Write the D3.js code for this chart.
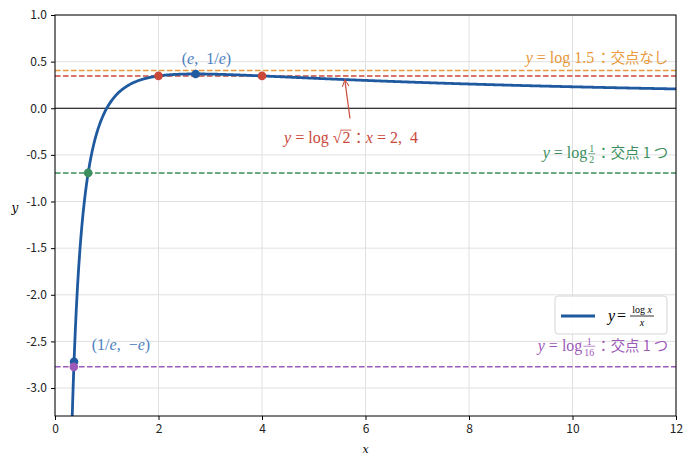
<!DOCTYPE html>
<html>
<head>
<meta charset="utf-8">
<script src="https://cdn.jsdelivr.net/npm/d3@7"></script>
<style>
  body { margin: 0; background: #fff; }
  .tick text { font-family: "Noto Sans CJK JP", "Noto Sans", sans-serif; font-size: 12px; fill: #222; }
</style>
</head>
<body>
<div id="chart"></div>
<script>
// axis ranges and ticks
const xDomain = [0, 12];
const yDomain = [-3.3, 1.0];
const xTicks = [0, 2, 4, 6, 8, 10, 12];
const yTicks = [1.0, 0.5, 0.0, -0.5, -1.0, -1.5, -2.0, -2.5, -3.0];

// horizontal levels y = log k
const levelNames = ['log1.5', 'logsqrt2', 'loghalf', 'log1_16'];
const levelValues = [0.405, 0.347, -0.693, -2.773];
const levelColors = ['#e8993a', '#c9483a', '#3b8f5e', '#9d59b8'];

// marked points
const pointX = [2.718, 0.368, 2, 4, 0.641, 0.364];
const pointY = [0.368, -2.718, 0.347, 0.347, -0.693, -2.773];
const pointColors = ['#1f5aa0', '#1f5aa0', '#c9483a', '#c9483a', '#3b8f5e', '#9d59b8'];

const curveColor = '#1f5aa0';
const f = x => Math.log(x) / x;

const width = 692, height = 467;
const margin = {top: 15, right: 16, bottom: 51, left: 55};

const svg = d3.select('#chart').append('svg')
  .attr('width', width).attr('height', height);

const x = d3.scaleLinear().domain(xDomain).range([margin.left, width - margin.right]);
const y = d3.scaleLinear().domain(yDomain).range([height - margin.bottom, margin.top]);

svg.append('clipPath').attr('id', 'clip')
  .append('rect')
  .attr('x', x(0)).attr('y', y(1))
  .attr('width', x(12) - x(0)).attr('height', y(-3.3) - y(1));

// grid
const grid = svg.append('g');
grid.selectAll('.gx').data(xTicks).enter().append('line')
  .attr('x1', d => x(d)).attr('x2', d => x(d))
  .attr('y1', y(1)).attr('y2', y(-3.3))
  .attr('stroke', '#e0e0e0');
grid.selectAll('.gy').data(yTicks).enter().append('line')
  .attr('y1', d => y(d)).attr('y2', d => y(d))
  .attr('x1', x(0)).attr('x2', x(12))
  .attr('stroke', '#e0e0e0');

// zero line
svg.append('line')
  .attr('x1', x(0)).attr('x2', x(12))
  .attr('y1', y(0)).attr('y2', y(0))
  .attr('stroke', '#000').attr('stroke-width', 1);

// dashed levels
svg.append('g').selectAll('line').data(levelValues).enter().append('line')
  .attr('x1', x(0)).attr('x2', x(12))
  .attr('y1', d => y(d)).attr('y2', d => y(d))
  .attr('stroke', (d, i) => levelColors[i])
  .attr('stroke-width', 1.5)
  .attr('stroke-dasharray', '5.5,2.5');

// the curve y = log x / x
const xs = d3.range(0.3, 12.0001, 0.01);
const line = d3.line().x(d => x(d)).y(d => y(f(d)));
svg.append('path')
  .attr('clip-path', 'url(#clip)')
  .attr('d', line(xs))
  .attr('fill', 'none')
  .attr('stroke', curveColor)
  .attr('stroke-width', 2.8);

// points
svg.append('g').selectAll('circle').data(pointX).enter().append('circle')
  .attr('cx', d => x(d))
  .attr('cy', (d, i) => y(pointY[i]))
  .attr('r', 4.3)
  .attr('fill', (d, i) => pointColors[i]);

// axes
const xAxis = svg.append('g')
  .attr('transform', `translate(0,${y(-3.3)})`)
  .call(d3.axisBottom(x).tickValues(xTicks).tickFormat(d3.format('d')).tickSizeOuter(0).tickSize(4).tickPadding(4));
const yAxis = svg.append('g')
  .attr('transform', `translate(${x(0)},0)`)
  .call(d3.axisLeft(y).tickValues(yTicks).tickFormat(d => d3.format('.1f')(d).replace('−', '-')).tickSizeOuter(0).tickSize(4).tickPadding(4));
[xAxis, yAxis].forEach(a => a.select('.domain').remove());

// frame
svg.append('rect')
  .attr('x', x(0)).attr('y', y(1))
  .attr('width', x(12) - x(0)).attr('height', y(-3.3) - y(1))
  .attr('fill', 'none').attr('stroke', '#000').attr('stroke-width', 1);

// axis labels
svg.append('text').attr('x', (x(0) + x(12)) / 2).attr('y', 453)
  .attr('text-anchor', 'middle')
  .style('font', 'italic 11px "DejaVu Serif", serif').text('x');
svg.append('text').attr('x', 15).attr('y', 212)
  .attr('text-anchor', 'middle')
  .style('font', 'italic 12px "DejaVu Serif", serif').text('y');

// rich math-ish label builder
const SERIF = '"Liberation Serif", "DejaVu Serif", serif';
const JP = '"Noto Sans CJK JP", sans-serif';
function richLabel(parts, px, py, color, anchor, size) {
  size = size || 16;
  const g = svg.append('g').attr('fill', color);
  let cx = 0;
  parts.forEach(p => {
    if (p.frac) {
      const fs = size * 0.62;
      const a = g.append('text').attr('y', -size * 0.36).style('font', `${fs}px ${SERIF}`).text(p.frac[0]);
      const b = g.append('text').attr('y', size * 0.33).style('font', `${fs}px ${SERIF}`).text(p.frac[1]);
      const wa = a.node().getComputedTextLength(), wb = b.node().getComputedTextLength();
      const w = Math.max(wa, wb) + 2;
      a.attr('x', cx + (w - wa) / 2);
      b.attr('x', cx + (w - wb) / 2);
      g.append('line').attr('x1', cx).attr('x2', cx + w)
        .attr('y1', -size * 0.28).attr('y2', -size * 0.28)
        .attr('stroke', color).attr('stroke-width', 0.7);
      cx += w + 1;
    } else if (p.sqrt) {
      const t0 = g.append('text').attr('x', cx).style('font', `${size}px ${SERIF}`).text('√');
      cx += t0.node().getComputedTextLength();
      const t1 = g.append('text').attr('x', cx + 1).style('font', `${size}px ${SERIF}`).text(p.sqrt);
      const w = t1.node().getComputedTextLength() + 2;
      g.append('line').attr('x1', cx - 1).attr('x2', cx + w)
        .attr('y1', -size * 0.82).attr('y2', -size * 0.82)
        .attr('stroke', color).attr('stroke-width', 0.8);
      cx += w;
    } else {
      const font = p.jp ? `${size * 0.9}px ${JP}` : `${p.it ? 'italic ' : ''}${size}px ${SERIF}`;
      const t = g.append('text').attr('x', cx).style('font', font).attr('xml:space', 'preserve').text(p.t);
      cx += t.node().getComputedTextLength() + (p.gap || 0);
    }
  });
  let dx = px;
  if (anchor === 'end') dx = px - cx;
  if (anchor === 'middle') dx = px - cx / 2;
  g.attr('transform', `translate(${dx},${py})`);
  return g;
}

const annBlue = '#4d7fc2';
richLabel([{t: '('}, {t: 'e', it: true}, {t: ',  1/'}, {t: 'e', it: true}, {t: ')'}],
  x(2.45), y(0.47), annBlue, 'start');
richLabel([{t: '(1/'}, {t: 'e', it: true}, {t: ',  −'}, {t: 'e', it: true}, {t: ')'}],
  x(0.71), y(-2.595), annBlue, 'start');

richLabel([{t: 'y', it: true}, {t: ' = log 1.5', gap: 2}, {t: '：交点なし', jp: true}],
  x(11.85), y(0.49), levelColors[0], 'end');
richLabel([{t: 'y', it: true}, {t: ' = log', gap: 1}, {frac: ['1', '2']}, {t: '：交点 1 つ', jp: true}],
  x(11.85), y(-0.535), levelColors[2], 'end');
richLabel([{t: 'y', it: true}, {t: ' = log', gap: 1}, {frac: ['1', '16']}, {t: '：交点 1 つ', jp: true}],
  x(11.85), y(-2.6), levelColors[3], 'end');
richLabel([{t: 'y', it: true}, {t: ' = log ', gap: 0}, {sqrt: '2'}, {t: '：', jp: true}, {t: 'x', it: true}, {t: ' = 2,  4'}],
  x(5.72), y(-0.375), levelColors[1], 'middle');

// arrow to curve
svg.append('defs').append('marker')
  .attr('id', 'arr').attr('viewBox', '0 0 10 10').attr('refX', 9).attr('refY', 5)
  .attr('markerWidth', 7).attr('markerHeight', 7).attr('orient', 'auto-start-reverse')
  .append('path').attr('d', 'M1,1 L9,5 L1,9').attr('fill', 'none')
  .attr('stroke', levelColors[1]).attr('stroke-width', 1.2);
svg.append('line')
  .attr('x1', x(5.7)).attr('y1', y(-0.11))
  .attr('x2', x(5.6)).attr('y2', y(0.305))
  .attr('stroke', levelColors[1]).attr('stroke-width', 1.2)
  .attr('marker-end', 'url(#arr)');

// legend
const lg = svg.append('g').attr('transform', 'translate(555,296)');
lg.append('rect').attr('width', 112).attr('height', 38).attr('rx', 3)
  .attr('fill', '#fff').attr('fill-opacity', 0.85).attr('stroke', '#d5d5d5');
lg.append('line').attr('x1', 6).attr('x2', 40).attr('y1', 20).attr('y2', 20)
  .attr('stroke', curveColor).attr('stroke-width', 2.8);
const lt = lg.append('g').attr('transform', 'translate(53,25)');
lt.append('text').style('font', `italic 16px ${SERIF}`).text('y');
lt.append('text').attr('x', 9).style('font', `16px ${SERIF}`).text('=');
lt.append('text').attr('x', 34).attr('y', -8).attr('text-anchor', 'middle')
  .style('font', `10px ${SERIF}`).html('log <tspan font-style="italic">x</tspan>');
lt.append('line').attr('x1', 22).attr('x2', 46).attr('y1', -5).attr('y2', -5)
  .attr('stroke', '#000').attr('stroke-width', 0.8);
lt.append('text').attr('x', 34).attr('y', 5).attr('text-anchor', 'middle')
  .style('font', `italic 10px ${SERIF}`).text('x');
</script>
</body>
</html>
